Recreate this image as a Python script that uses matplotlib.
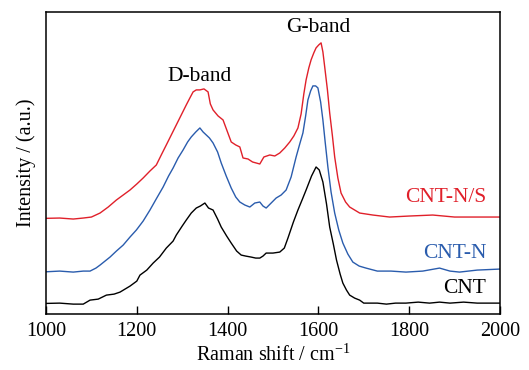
import numpy as np
import matplotlib.pyplot as plt

plt.rcParams['font.family'] = ['Liberation Serif', 'DejaVu Serif']
plt.rcParams['mathtext.fontset'] = 'stix'

# Raman spectra (intensity in arbitrary units)
cnt_x = [1000, 1030, 1060, 1082, 1097, 1115, 1133, 1150, 1163, 1185, 1200, 1207, 1222, 1236, 1250,
         1265, 1280, 1287, 1300, 1309, 1320, 1331, 1340, 1350, 1358, 1368, 1378, 1386, 1398, 1408,
         1420, 1430, 1440, 1452, 1462, 1471, 1478, 1485, 1500, 1515, 1525, 1533, 1545, 1555, 1565,
         1573, 1585, 1595, 1602, 1610, 1618, 1625, 1633, 1640, 1648, 1654, 1662, 1669, 1680, 1691,
         1700, 1713, 1730, 1750, 1770, 1793, 1820, 1845, 1867, 1890, 1920, 1950, 1975, 1999]
cnt_y = [10.7, 11, 10, 10, 14, 15, 19, 20, 22, 28, 33, 39, 44, 51, 57,
         66, 73, 79, 88, 94, 101, 106, 108, 111, 106, 104, 95, 87, 78, 71,
         63, 59, 58, 57, 56, 56, 58, 61, 61, 62, 66, 76, 92, 104, 115,
         124, 138, 147, 144, 132, 110, 87, 70, 54, 40, 31, 24, 19, 16, 14,
         11, 11, 11, 10, 11, 11, 12, 11, 12, 11, 12, 11, 11, 11]

cntn_x = [1000, 1030, 1060, 1082, 1097, 1110, 1119, 1130, 1141, 1155, 1170, 1185, 1199, 1214, 1229,
          1244, 1258, 1270, 1280, 1291, 1302, 1312, 1320, 1330, 1339, 1346, 1353, 1360, 1368, 1378,
          1386, 1397, 1408, 1418, 1427, 1438, 1449, 1460, 1471, 1478, 1485, 1496, 1507, 1518, 1529,
          1540, 1551, 1559, 1566, 1572, 1577, 1583, 1588, 1594, 1599, 1605, 1610, 1615, 1621, 1628,
          1636, 1645, 1654, 1665, 1676, 1690, 1705, 1730, 1760, 1793, 1830, 1867, 1890, 1911, 1950, 1999]
cntn_y = [42.3, 43, 42, 43, 43, 46, 49, 53, 57, 63, 69, 77, 84, 93, 104,
          116, 127, 138, 146, 156, 164, 172, 177, 182, 186, 182, 179, 176, 171, 162,
          151, 138, 126, 117, 112, 109, 107, 111, 112, 108, 106, 111, 116, 119, 124,
          137, 157, 170, 181, 198, 214, 223, 228, 228, 226, 212, 194, 172, 147, 122,
          101, 84, 71, 60, 52, 48, 46, 43, 43, 42, 43, 46, 43, 42, 44, 45]

cntns_x = [1000, 1030, 1060, 1082, 1100, 1119, 1137, 1155, 1170, 1185, 1200, 1214, 1229, 1243, 1255,
           1265, 1276, 1287, 1298, 1309, 1317, 1324, 1331, 1339, 1348, 1357, 1362, 1368, 1379, 1390,
           1399, 1408, 1418, 1427, 1434, 1445, 1455, 1463, 1471, 1480, 1493, 1504, 1515, 1526, 1537,
           1546, 1555, 1562, 1568, 1573, 1579, 1584, 1590, 1595, 1601, 1606, 1610, 1614, 1620, 1625,
           1631, 1636, 1643, 1650, 1660, 1669, 1680, 1691, 1720, 1757, 1800, 1852, 1900, 1940, 1970, 1999]
cntns_y = [95.7, 96, 95, 96, 97, 101, 107, 114, 119, 124, 130, 136, 143, 149, 160,
           169, 179, 189, 199, 209, 216, 222, 224, 224, 225, 222, 210, 204, 198, 194,
           183, 172, 169, 167, 156, 155, 152, 151, 150, 157, 159, 158, 161, 166, 172,
           178, 186, 200, 220, 234, 246, 254, 261, 266, 269, 271, 262, 247, 224, 201,
           178, 157, 136, 121, 112, 107, 104, 101, 99, 97, 98, 99, 97, 97, 97, 97]

xticks = [1000, 1200, 1400, 1600, 1800, 2000]

fig = plt.figure(figsize=(5.29, 3.70), dpi=100)
ax = fig.add_axes([0.087, 0.151, 0.858, 0.817])

ax.plot(cnt_x, cnt_y, color='black', lw=1.0)
ax.plot(cntn_x, cntn_y, color='#2a5cad', lw=1.0)
ax.plot(cntns_x, cntns_y, color='#e0202a', lw=1.0)

ax.text(1339, 237, 'D-band', ha='center', va='center', fontsize=15.5)
ax.text(1599, 286, 'G-band', ha='center', va='center', fontsize=15.5)
ax.text(1970, 117, 'CNT-N/S', ha='right', va='center', fontsize=15.5, color='#e0202a')
ax.text(1970, 61, 'CNT-N', ha='right', va='center', fontsize=15.5, color='#2a5cad')
ax.text(1970, 26, 'CNT', ha='right', va='center', fontsize=15.5, color='black')

ax.set_xlim(1000, 2000)
ax.set_ylim(0, 302)
ax.set_xticks(xticks)
ax.set_yticks([])
ax.tick_params(axis='x', direction='in', length=6, width=1, labelsize=14.5, pad=6)
for s in ax.spines.values():
    s.set_linewidth(1.1)

ax.set_xlabel('Raman shift / cm$^{\\mathregular{-1}}$', fontsize=14.5, labelpad=2)
ax.set_ylabel('Intensity / (a.u.)', fontsize=14.5, labelpad=7)

fig.savefig('out.png', dpi=100)
